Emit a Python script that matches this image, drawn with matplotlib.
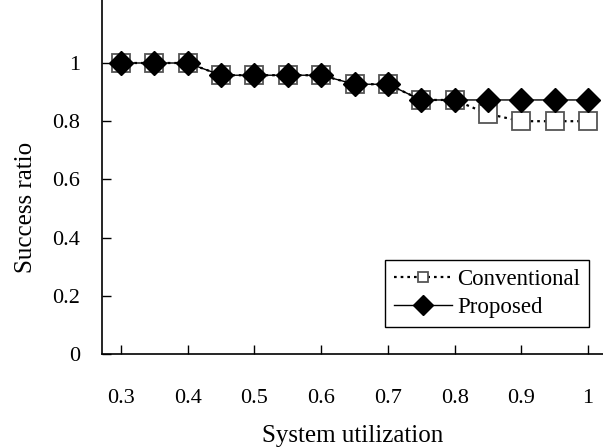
import matplotlib
matplotlib.use("Agg")
import matplotlib.pyplot as plt
from matplotlib.lines import Line2D

utilization = [0.3, 0.35, 0.4, 0.45, 0.5, 0.55, 0.6, 0.65, 0.7, 0.75, 0.8, 0.85, 0.9, 0.95, 1.0]
conventional = [1.0, 1.0, 1.0, 0.958, 0.958, 0.958, 0.958, 0.927, 0.927, 0.873, 0.873, 0.825, 0.8, 0.8, 0.8]
proposed = [1.0, 1.0, 1.0, 0.958, 0.958, 0.958, 0.958, 0.927, 0.927, 0.873, 0.873, 0.873, 0.873, 0.873, 0.873]
xticks = [0.3, 0.4, 0.5, 0.6, 0.7, 0.8, 0.9, 1.0]
xticklabels = ["0.3", "0.4", "0.5", "0.6", "0.7", "0.8", "0.9", "1"]
yticks = [0, 0.2, 0.4, 0.6, 0.8, 1.0]
yticklabels = ["0", "0.2", "0.4", "0.6", "0.8", "1"]
series_names = ["Conventional", "Proposed"]

plt.rcParams['font.family'] = ['Liberation Serif', 'DejaVu Serif']

fig = plt.figure(figsize=(6.03, 4.48), dpi=100)
ax = fig.add_axes([102/603, 94/448, 501/603, 354/448])

conv_style = dict(linestyle=(0, (1.2, 1.8)), color='black', linewidth=1.6,
                  marker='s', markerfacecolor='white', markeredgecolor='#555555',
                  markeredgewidth=1.3)
prop_style = dict(linestyle='-', color='black', linewidth=1.0,
                  marker='D', markerfacecolor='black', markeredgecolor='black')

ax.plot(utilization, conventional, markersize=13.5, zorder=2, **conv_style)
ax.plot(utilization, proposed, markersize=12, zorder=3, **prop_style)

ax.set_xlim(0.3 - 19/667, 1.0 + 15/667)
ax.set_ylim(0, 354/291)
ax.set_xticks(xticks)
ax.set_xticklabels(xticklabels)
ax.set_yticks(yticks)
ax.set_yticklabels(yticklabels)
ax.tick_params(axis='x', direction='in', length=6.5, width=1, pad=25.5, labelsize=16)
ax.tick_params(axis='y', direction='in', length=6.5, width=1, pad=16, labelsize=16)
for s in ['top', 'right']:
    ax.spines[s].set_visible(False)
for s in ['left', 'bottom']:
    ax.spines[s].set_linewidth(1.2)

ax.set_xlabel('System utilization', fontsize=18, labelpad=12)
ax.set_ylabel('Success ratio', fontsize=18, labelpad=11)
ax.yaxis.label.set_y(0.415)

handles = [Line2D([], [], markersize=7.5, **conv_style),
           Line2D([], [], markersize=10.5, **prop_style)]
leg = ax.legend(handles, series_names, loc='lower right',
                bbox_to_anchor=(487/501, 27/354), borderaxespad=0, fontsize=16.5,
                frameon=True, fancybox=False, edgecolor='black', framealpha=1,
                handlelength=2.55, borderpad=0.4, labelspacing=0.3, handletextpad=0.2)
leg.get_frame().set_linewidth(1.0)

fig.savefig('out.png', dpi=100)
